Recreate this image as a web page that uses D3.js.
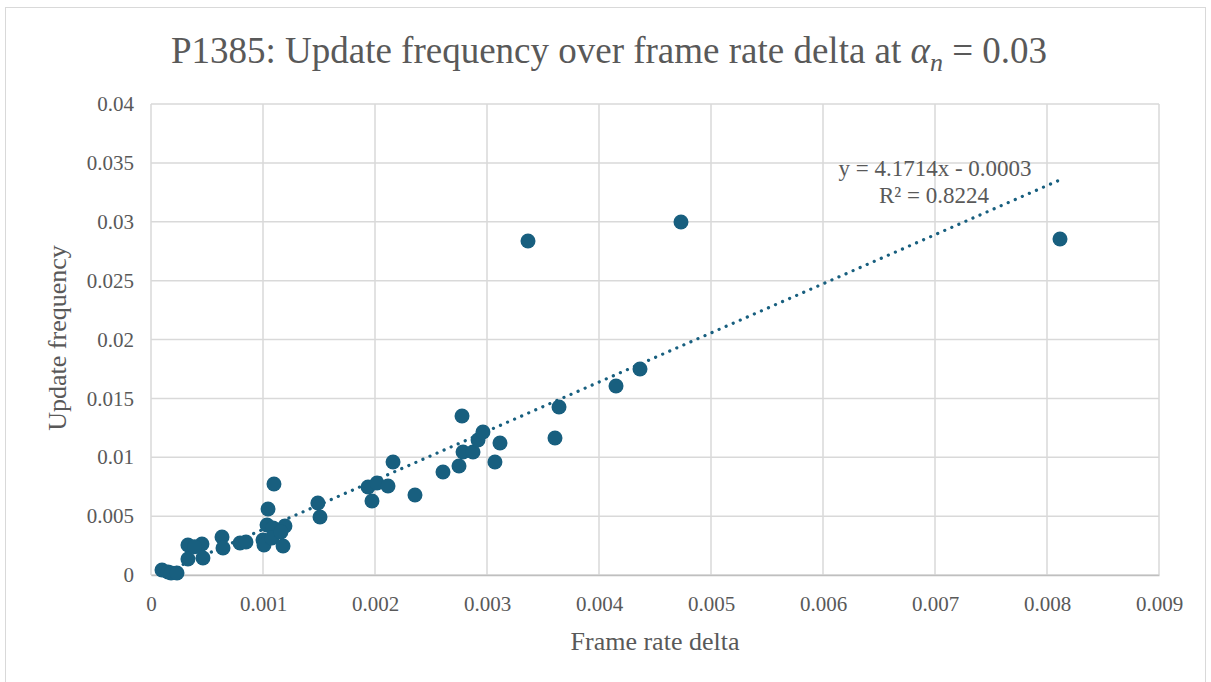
<!DOCTYPE html>
<html>
<head>
<meta charset="utf-8">
<script src="https://cdn.jsdelivr.net/npm/d3@7"></script>
<style>
  html, body { margin: 0; padding: 0; background: #fff; }
  svg { display: block; }
  text { font-family: "Liberation Serif", "Times New Roman", serif; fill: #595959; }
</style>
</head>
<body>
<svg id="chart" width="1211" height="682"></svg>
<script>
// Frame rate delta (x) and update frequency (y) per sample
const frameRateDelta = [
  0.000098, 0.000152, 0.000179, 0.000232,
  0.00033, 0.000455, 0.00033, 0.000464, 0.00039,
  0.000634, 0.000643, 0.000795, 0.000848,
  0.001098, 0.001045, 0.001036, 0.001089, 0.001196, 0.001, 0.001009, 0.00108, 0.001179, 0.00116,
  0.00149, 0.001509,
  0.001938, 0.002018, 0.002116, 0.001973, 0.002161, 0.002357,
  0.002607, 0.00275, 0.002777, 0.002786, 0.002875, 0.00292, 0.002964, 0.003071, 0.003116,
  0.003607, 0.003643, 0.004152, 0.004366,
  0.003366, 0.004732, 0.008116
];
const updateFrequency = [
  0.00042, 0.00025, 0.00017, 0.00017,
  0.00255, 0.00263, 0.00136, 0.00144, 0.0024,
  0.00323, 0.00229, 0.00272, 0.0028,
  0.00773, 0.0056, 0.00425, 0.004, 0.00416, 0.00297, 0.00255, 0.00314, 0.00246, 0.00365,
  0.00611, 0.00493,
  0.00747, 0.00781, 0.00756, 0.00628, 0.0096, 0.00679,
  0.00875, 0.00926, 0.0135, 0.01045, 0.01045, 0.01147, 0.01215, 0.0096, 0.01121,
  0.01164, 0.01427, 0.01605, 0.0175,
  0.02836, 0.02998, 0.02853
];

// Linear trendline fitted to the series
const trendSlope = 4.1714;
const trendIntercept = -0.0003;
const trendLabel = ["y = 4.1714x - 0.0003", "R² = 0.8224"];

const xTicks = [0, 0.001, 0.002, 0.003, 0.004, 0.005, 0.006, 0.007, 0.008, 0.009];
const yTicks = [0, 0.005, 0.01, 0.015, 0.02, 0.025, 0.03, 0.035, 0.04];

const svg = d3.select("#chart");
const margin = { left: 151, right: 1159, top: 104, bottom: 575 };
const markColor = "#185f7f";
const gridColor = "#d9d9d9";
const serif = "Liberation Serif, Times New Roman, serif";

// outer chart frame
svg.append("rect")
  .attr("x", 5.5).attr("y", 7.5).attr("width", 1200).attr("height", 680)
  .attr("fill", "#fff").attr("stroke", "#d9d9d9").attr("stroke-width", 1);

const x = d3.scaleLinear().domain([0, 0.009]).range([margin.left, margin.right]);
const y = d3.scaleLinear().domain([0, 0.04]).range([margin.bottom, margin.top]);

// gridlines
const grid = svg.append("g").attr("stroke", gridColor).attr("stroke-width", 1.5);
grid.selectAll("line.v").data(xTicks).join("line").attr("class", "v")
  .attr("x1", d => x(d)).attr("x2", d => x(d))
  .attr("y1", margin.top).attr("y2", margin.bottom);
grid.selectAll("line.h").data(yTicks).join("line").attr("class", "h")
  .attr("x1", margin.left).attr("x2", margin.right)
  .attr("y1", d => y(d)).attr("y2", d => y(d));

// axes (labels only; lines come from the grid)
const fmt = d => d === 0 ? "0" : String(+d.toFixed(4));
const xAxis = d3.axisBottom(x).tickValues(xTicks).tickFormat(fmt).tickSize(0).tickPadding(21);
const yAxis = d3.axisLeft(y).tickValues(yTicks).tickFormat(fmt).tickSize(0).tickPadding(17);

const gx = svg.append("g").attr("transform", `translate(0,${margin.bottom})`).call(xAxis)
  .attr("font-family", serif);
gx.select(".domain").attr("stroke", "#bfbfbf").attr("stroke-width", 1.5);
gx.selectAll("text").style("font-family", serif).style("font-size", "21px").attr("fill", "#595959");

const gy = svg.append("g").attr("transform", `translate(${margin.left},0)`).call(yAxis)
  .attr("font-family", serif);
gy.select(".domain").remove();
gy.selectAll("text").style("font-family", serif).style("font-size", "21px").attr("fill", "#595959");

// trendline over the data range
const xs = d3.extent(frameRateDelta);
const trend = xs.map(v => [v, trendSlope * v + trendIntercept]);
svg.append("path")
  .datum(trend)
  .attr("d", d3.line().x(d => x(d[0])).y(d => y(d[1])))
  .attr("fill", "none").attr("stroke", markColor)
  .attr("stroke-width", 3.2).attr("stroke-linecap", "round")
  .attr("stroke-dasharray", "0.1 7.6");

// scatter points
svg.append("g").selectAll("circle")
  .data(frameRateDelta.map((v, i) => [v, updateFrequency[i]]))
  .join("circle")
  .attr("cx", d => x(d[0])).attr("cy", d => y(d[1]))
  .attr("r", 7.5).attr("fill", markColor);

// trendline equation
svg.append("text").attr("x", 935).attr("y", 176).attr("text-anchor", "middle")
  .style("font-size", "23px").text(trendLabel[0]);
svg.append("text").attr("x", 934).attr("y", 203).attr("text-anchor", "middle")
  .style("font-size", "23px").text(trendLabel[1]);

// title
const title = svg.append("text").attr("x", 609).attr("y", 63).attr("text-anchor", "middle")
  .style("font-size", "37px");
title.append("tspan").text("P1385: Update frequency over frame rate delta at ");
title.append("tspan").style("font-style", "italic").text("α");
title.append("tspan").style("font-style", "italic").style("font-size", "26px").attr("dy", 8).text("n");
title.append("tspan").attr("dy", -8).text(" = 0.03");

// axis titles
svg.append("text").attr("x", 655).attr("y", 650).attr("text-anchor", "middle")
  .style("font-size", "26px").text("Frame rate delta");
svg.append("text").attr("transform", "translate(66,338) rotate(-90)").attr("text-anchor", "middle")
  .style("font-size", "26px").text("Update frequency");
</script>
</body>
</html>
